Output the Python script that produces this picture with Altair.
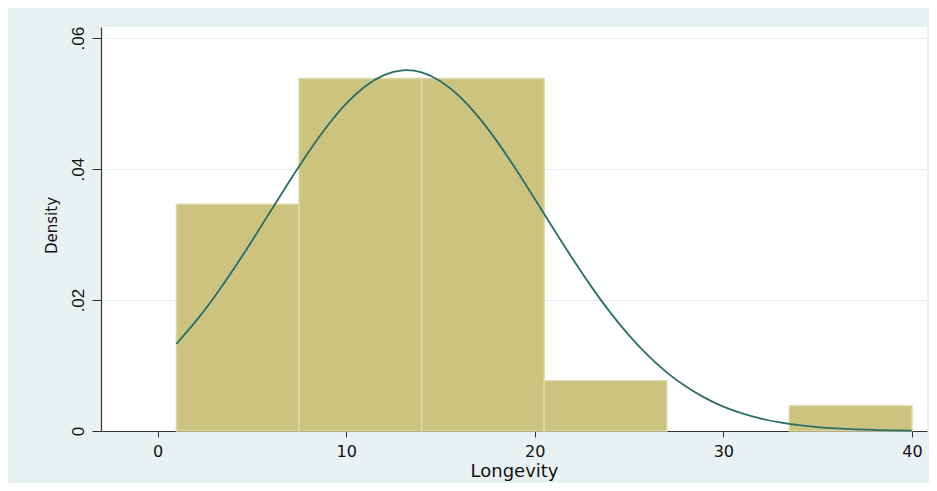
import altair as alt
import pandas as pd

# Histogram bins (Longevity), density per bin
bin_start = [1.0, 7.5, 14.0, 20.5, 33.5]
bin_end = [7.5, 14.0, 20.5, 27.0, 40.0]
density = [0.03462, 0.05385, 0.05385, 0.00769, 0.00385]

# Normal density overlay
curve_x = [1, 2, 3, 4, 5, 6, 7, 8, 9, 10, 11, 12, 13, 14, 15, 16, 17, 18, 19, 20,
           21, 22, 23, 24, 25, 26, 27, 28, 29, 30, 31, 32, 33, 34, 35, 36, 37, 38, 39, 40]
curve_y = [0.01332, 0.01666, 0.02043, 0.02458, 0.02902, 0.03361, 0.03818, 0.04258,
           0.04657, 0.04998, 0.05262, 0.05435, 0.05508, 0.05477, 0.05342, 0.05113,
           0.04801, 0.04423, 0.03998, 0.03545, 0.03084, 0.02633, 0.02205, 0.01811,
           0.01460, 0.01155, 0.00896, 0.00682, 0.00510, 0.00373, 0.00269, 0.00189,
           0.00131, 0.00089, 0.00059, 0.00039, 0.00025, 0.00016, 0.00010, 0.00006]

x_ticks = [0, 10, 20, 30, 40]
y_ticks = [0, 0.02, 0.04, 0.06]

bars_df = pd.DataFrame({"x0": bin_start, "x1": bin_end, "d": density})
curve_df = pd.DataFrame({"x": curve_x, "y": curve_y})

xscale = alt.Scale(domain=[-3.0, 40.8], nice=False, zero=False)
yscale = alt.Scale(domain=[0, 0.0617], nice=False, zero=False)

x_axis = alt.Axis(
    values=x_ticks, title="Longevity", grid=False,
    labelFont="DejaVu Sans", labelFontSize=16, labelColor="#111111",
    labelPadding=6, tickSize=6, tickColor="#333333",
    domainColor="#333333", domainWidth=1.2,
    titleFont="DejaVu Sans", titleFontSize=18, titleFontWeight="normal",
    titleColor="#111111", titleBaseline="alphabetic", titleY=45,
)
y_axis = alt.Axis(
    values=y_ticks, title="Density", grid=True, gridColor="#e6eef0", gridWidth=1,
    labelExpr="datum.value == 0 ? '0' : replace(format(datum.value, '.2f'), '0.', '.')",
    labelAngle=270, labelAlign="center", labelBaseline="alphabetic",
    labelFont="Liberation Sans", labelFontSize=17, labelColor="#111111",
    labelPadding=9, tickSize=9, tickColor="#333333",
    domainColor="#333333", domainWidth=1.2,
    titleFont="DejaVu Sans", titleFontSize=15, titleFontWeight="normal",
    titleColor="#111111", titleAngle=270, titleBaseline="alphabetic",
    titleX=-45, titleY=198, titleAlign="center",
)

bars = alt.Chart(bars_df).mark_rect(
    color="#cbc37e", stroke="#ddd8a8", strokeWidth=1.5
).encode(
    x=alt.X("x0:Q", scale=xscale, axis=x_axis),
    x2="x1:Q",
    y=alt.Y("d:Q", scale=yscale, axis=y_axis),
    y2=alt.datum(0),
)

line = alt.Chart(curve_df).mark_line(
    color="#2a6e68", strokeWidth=1.8, interpolate="natural"
).encode(
    x=alt.X("x:Q", scale=xscale),
    y=alt.Y("y:Q", scale=yscale),
)

chart = alt.layer(bars, line).properties(
    width=826, height=404,
    autosize=alt.AutoSizeParams(type="none"),
    padding={"left": 93, "top": 19, "right": 2, "bottom": 52},
    background="#eaf1f3",
).configure_view(fill="white", stroke=None)

chart.save("out.html", embed_options={"renderer": "svg", "actions": False})
